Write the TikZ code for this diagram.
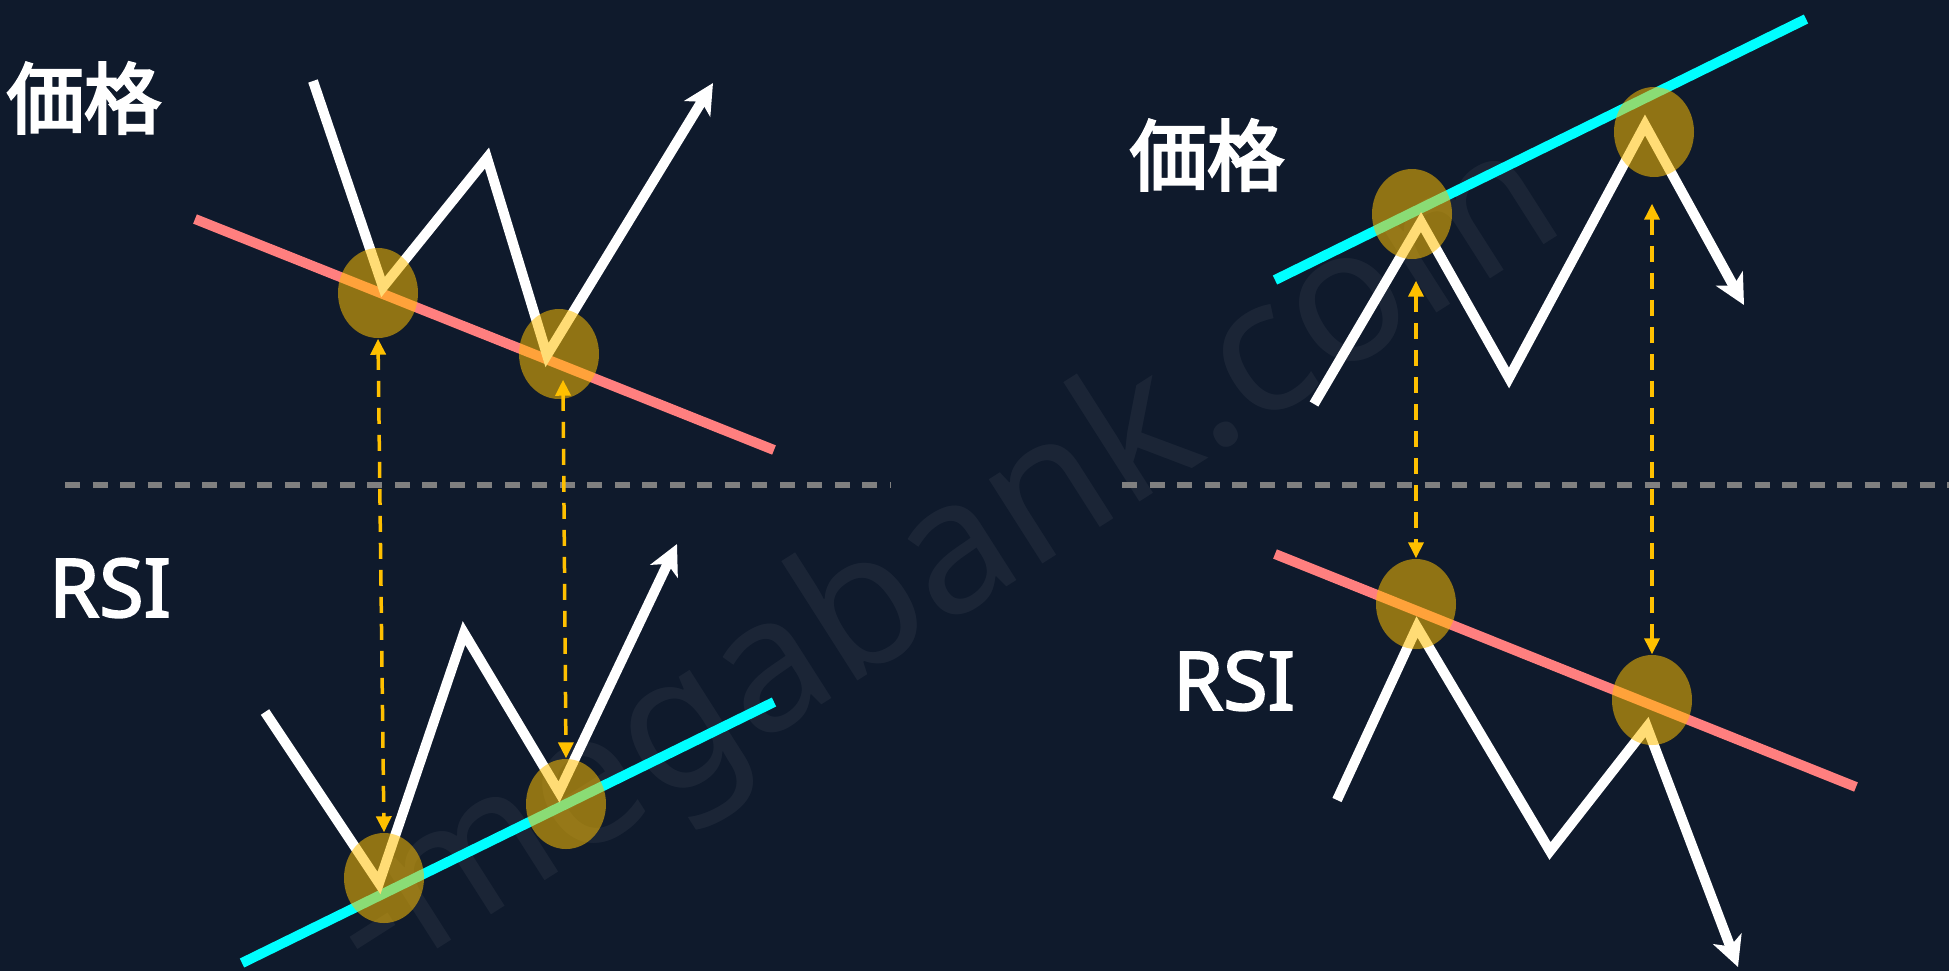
\documentclass[tikz,border=0pt]{standalone}
\usepackage{fontspec}
\setsansfont{Noto Sans}
\newfontfamily\jpfont{Noto Sans CJK JP}[FakeBold=3.5]
\newfontfamily\rsifont{Noto Sans}[FakeBold=2.5]
\usetikzlibrary{arrows.meta,shapes.geometric}

\definecolor{bgnavy}{HTML}{0F1A2C}
\definecolor{trendred}{HTML}{FF7F7F}
\definecolor{trendcyan}{HTML}{00FFFF}
\definecolor{spotgold}{HTML}{FFC000}
\definecolor{midgray}{HTML}{808080}

\tikzset{
  spot/.style={ellipse, minimum width=8mm, minimum height=9mm, inner sep=0pt,
    fill=spotgold, fill opacity=0.54},
  wave/.style={white, line width=1mm, -{Stealth[length=3mm,width=3mm,inset=0.8mm]}},
  trend/.style={line width=1mm},
  link/.style={spotgold, line width=0.35mm, dash pattern=on 1.6mm off 1.1mm,
    {Triangle[length=1.6mm,width=1.5mm]}-{Triangle[length=1.6mm,width=1.5mm]}},
  divider/.style={midgray, line width=0.55mm, dash pattern=on 1.5mm off 1.25mm},
  jplabel/.style={text=white, inner sep=0pt, font=\jpfont\fontsize{22pt}{22pt}\selectfont},
  enlabel/.style={text=white, inner sep=0pt, font=\rsifont\fontsize{23pt}{23pt}\selectfont},
}

\begin{document}
\begin{tikzpicture}[x=0.1mm, y=-0.1mm]
    % 背景
    \fill[bgnavy] (0,0) rectangle (1949,971);
    \useasboundingbox (0,0) rectangle (1949,971);

    % 透かし
    \node[rotate=32.5, text=white, text opacity=0.05,
          font=\sffamily\bfseries\fontsize{53pt}{53pt}\selectfont] (mark) at (946,568) {-megabank.com};

    % 区切り線
    \draw[divider] (65,485) -- (891,485);
    \draw[divider] (1122,485) -- (1949,485);

    % ラベル
    \node[jplabel] (priceL) at (84,98) {価格};
    \node[jplabel] (priceR) at (1207,155) {価格};
    \node[enlabel] (rsiL) at (110,588) {RSI};
    \node[enlabel] (rsiR) at (1234,681) {RSI};

    % トレンドライン
    \draw[trend, trendred] (195,219) -- (774,450);
    \draw[trend, trendcyan] (242,963) -- (774,702);
    \draw[trend, trendcyan] (1275,280) -- (1806,19);
    \draw[trend, trendred] (1275,554) -- (1856,787);

    % 値動き
    \draw[wave] (313,81) -- (383,287) -- (487,158) -- (547,355) -- (713,83);
    \draw[wave] (265,712) -- (379,883) -- (464,633) -- (559,792) -- (677,544);
    \draw[wave] (1314,404) -- (1421,222) -- (1509,378) -- (1645,125) -- (1744,305);
    \draw[wave] (1337,800) -- (1417,627) -- (1550,851) -- (1647,727) -- (1738,967);

    % 注目点
    \node[spot] (pa) at (378,293) {};
    \node[spot] (pb) at (559,354) {};
    \node[spot] (ra) at (384,878) {};
    \node[spot] (rb) at (566,804) {};
    \node[spot] (qa) at (1412,214) {};
    \node[spot] (qb) at (1654,132) {};
    \node[spot] (sa) at (1416,604) {};
    \node[spot] (sb) at (1652,700) {};

    % 価格とRSIの対応
    \draw[link] (pa.south) -- (ra.north);
    \draw[link] ([shift={(4,-20)}]pb.south) -- (rb.north);
    \draw[link] ([shift={(4,21)}]qa.south) -- (sa.north);
    \draw[link] ([shift={(-2,26)}]qb.south) -- (sb.north);
\end{tikzpicture}
\end{document}
